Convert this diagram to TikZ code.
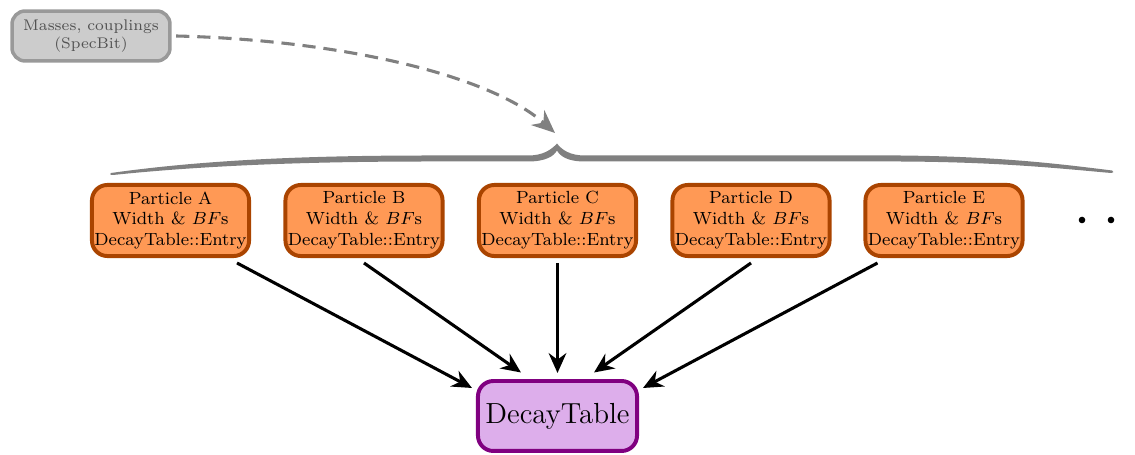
\documentclass[tikz,border=0pt]{standalone}
\usetikzlibrary{arrows.meta}
\definecolor{pfill}{HTML}{FF9955}
\definecolor{pdraw}{HTML}{AA4400}
\definecolor{dfill}{HTML}{DDAEEB}
\definecolor{ddraw}{HTML}{800080}
\definecolor{gfill}{HTML}{CCCCCC}
\definecolor{gdraw}{HTML}{999999}
\definecolor{gline}{HTML}{808080}
\begin{document}
\begin{tikzpicture}[x=0.4545pt,y=-0.4545pt,
  partbox/.style={draw=pdraw,fill=pfill,line width=1.8pt,rounded corners=7pt,
    minimum width=71.4pt,minimum height=32.3pt,align=center,font=\footnotesize,inner sep=1pt},
  dtbox/.style={draw=ddraw,fill=dfill,line width=1.8pt,rounded corners=7pt,
    minimum width=72.3pt,minimum height=31.8pt,font=\fontsize{13.2}{15}\selectfont,inner sep=1pt},
  srcbox/.style={draw=gdraw,fill=gfill,line width=1.6pt,rounded corners=6pt,
    minimum width=71.8pt,minimum height=22.7pt,align=center,font=\scriptsize,
    text=black!68,inner sep=1pt},
  feed/.style={line width=1.4pt,-{Stealth[length=9pt,width=8pt]}},
  depend/.style={gline,line width=1.4pt,dash pattern=on 6pt off 3.6pt,
    -{Stealth[length=10.5pt,width=9pt]}},
  bracefill/.style={fill=gline}
]
\useasboundingbox (0,0) rectangle (1135,455);

\node[srcbox] (M) at (91,36) {Masses, couplings\\(SpecBit)};

\node[partbox] (A) at (170.5,220.5) {Particle A\\Width \& $BF$s\\DecayTable::Entry};
\node[partbox] (B) at (364,220.5) {Particle B\\Width \& $BF$s\\DecayTable::Entry};
\node[partbox] (C) at (557.5,220.5) {Particle C\\Width \& $BF$s\\DecayTable::Entry};
\node[partbox] (D) at (751,220.5) {Particle D\\Width \& $BF$s\\DecayTable::Entry};
\node[partbox] (E) at (944,220.5) {Particle E\\Width \& $BF$s\\DecayTable::Entry};

\node[dtbox] (DT) at (557.5,416) {DecayTable};

% brace over the particles (tapered, swooping ends)
\fill[bracefill]
  (111,173) .. controls (200,160.5) and (300,155.5) .. (430,155.5)
  -- (528,155.5) .. controls (543,155.5) and (551,150) .. (557,143.5)
  .. controls (562,150) and (570,155.5) .. (585,155.5)
  -- (900,155.5) .. controls (1000,156.5) and (1060,164) .. (1112,170.5)
  .. controls (1114,171.5) and (1114,172.5) .. (1111,173)
  .. controls (1060,168.5) and (1000,162) .. (900,161.5)
  -- (585,161.5) .. controls (567,161.5) and (560,156) .. (557,150.5)
  .. controls (554,156) and (546,161.5) .. (528,161.5)
  -- (430,161.5) .. controls (300,161.5) and (200,166) .. (113,175)
  .. controls (110,175) and (109,173.5) .. (111,173) -- cycle;
\coordinate (tipin) at (555,133);

% dots
\fill (1082,220) circle (1.5pt);
\fill (1111,220) circle (1.5pt);

% dependency arrow
\draw[depend] ([xshift=2pt]M.east) .. controls (340,40) and (490,75) .. (tipin);

% arrows into DecayTable
\draw[feed] ([shift={(66.5,42.5)}]A.center) -- ([shift={(-85.5,-28)}]DT.center);
\draw[feed] ([shift={(0,42.5)}]B.center) -- ([shift={(-36.5,-43.5)}]DT.center);
\draw[feed] ([shift={(0,42.5)}]C.center) -- ([shift={(0,-43)}]DT.center);
\draw[feed] ([shift={(0,42.5)}]D.center) -- ([shift={(36.5,-43.5)}]DT.center);
\draw[feed] ([shift={(-66.5,42.5)}]E.center) -- ([shift={(85.5,-28)}]DT.center);
\end{tikzpicture}
\end{document}
